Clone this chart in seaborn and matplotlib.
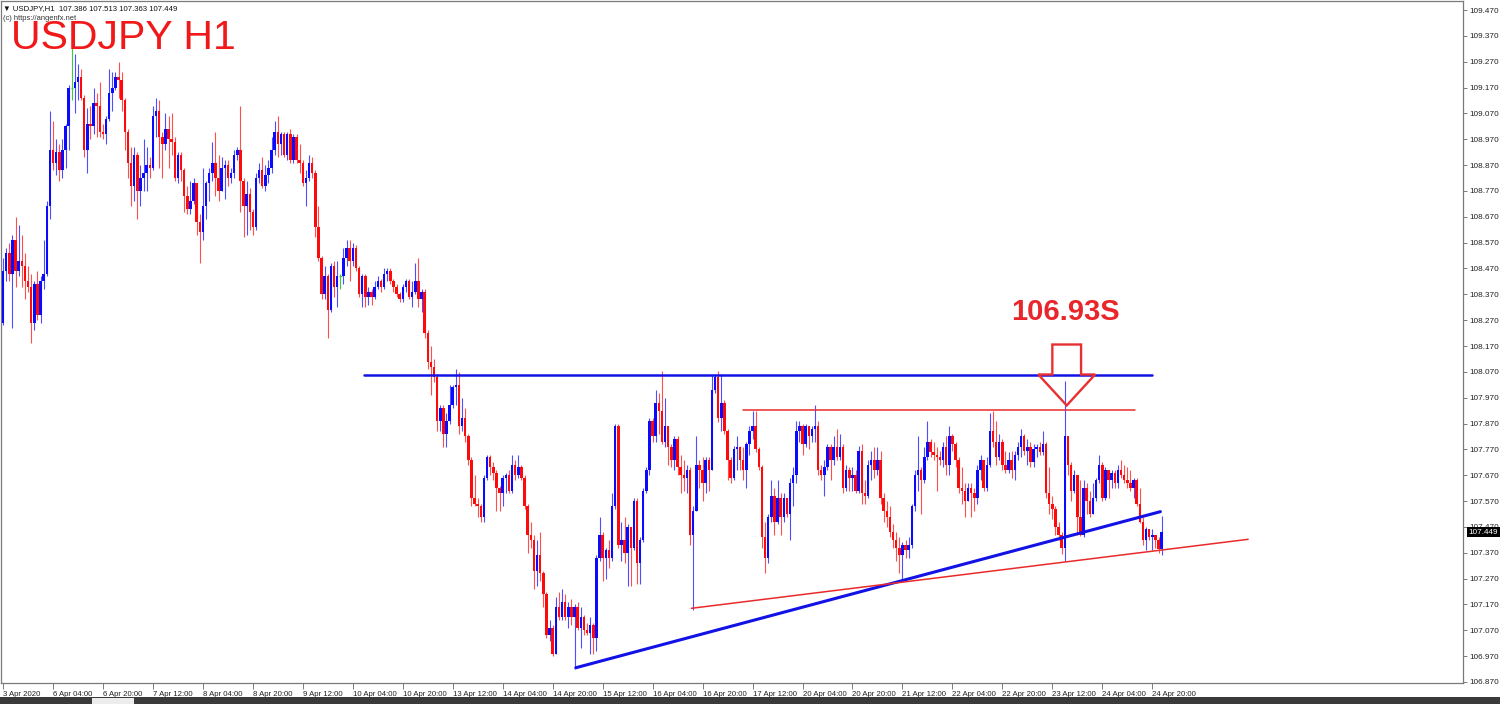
import numpy as np
import pandas as pd
import seaborn as sns
import matplotlib.pyplot as plt
from matplotlib.patches import Polygon, Rectangle
from matplotlib.colors import to_rgba

# ==============================
# DATA  (USDJPY H1, 3 Apr 12:00 -> 24 Apr 23:00, one value per hourly bar)
# ==============================
first_open = 108.26

closes = [
    # 3 Apr 12:00 ... 6 Apr
    108.46, 108.53, 108.45, 108.58, 108.46, 108.50, 108.48, 108.42, 108.40, 108.26, 108.41, 108.29,
    108.42, 108.45, 108.71, 108.93, 108.88, 108.92, 108.85, 108.93, 109.02, 109.17, 109.17, 109.19,
    109.21, 109.13, 108.93, 109.03, 109.02, 109.11, 109.10, 109.00, 108.99, 109.05, 109.15, 109.17,
    109.21, 109.20, 109.12, 109.00, 108.88, 108.79, 108.91, 108.77, 108.82, 108.84, 108.87, 108.86,
    109.06, 109.08, 108.98, 108.95, 109.01, 108.97, 108.96, 108.82, 108.91, 108.85, 108.75, 108.70,
    108.73, 108.80, 108.65, 108.61, 108.71, 108.80, 108.84, 108.88, 108.82, 108.77, 108.86, 108.87,
    108.82, 108.84, 108.91, 108.93, 108.81,
    # 8 Apr ... 10 Apr
    108.71, 108.76, 108.69, 108.63, 108.82, 108.85, 108.79, 108.83, 108.86, 108.93, 109.00, 108.95,
    108.99, 108.91, 108.99, 108.89, 108.98, 108.89, 108.88, 108.80, 108.82, 108.88, 108.84, 108.63,
    108.51, 108.37, 108.44, 108.31, 108.48, 108.40, 108.44, 108.44, 108.51, 108.55, 108.50, 108.55,
    108.47, 108.37, 108.44, 108.36, 108.38, 108.36, 108.40, 108.42, 108.40, 108.45, 108.46, 108.42,
    108.40, 108.37, 108.35, 108.40, 108.42, 108.36, 108.38, 108.42, 108.35, 108.38, 108.22, 108.11,
    # 10 Apr ... 15 Apr
    108.09, 108.05, 107.88, 107.93, 107.83, 107.88, 107.94, 108.01, 108.02, 107.86, 107.89, 107.82,
    107.73, 107.58, 107.56, 107.55, 107.51, 107.66, 107.74, 107.70, 107.68, 107.62, 107.60, 107.66,
    107.67, 107.61, 107.71, 107.67, 107.70, 107.66, 107.55, 107.44, 107.42, 107.30, 107.36, 107.29,
    107.21, 107.05, 107.08, 106.98, 107.16, 107.12, 107.18, 107.12, 107.16, 107.12, 107.16, 107.08,
    107.12, 107.07, 107.06, 107.09, 107.04, 107.35,
    # 15 Apr ... 20 Apr
    107.44, 107.35, 107.38, 107.35, 107.55, 107.86, 107.40, 107.42, 107.37, 107.47, 107.39, 107.57,
    107.33, 107.42, 107.61, 107.69, 107.88, 107.82, 107.95, 107.92, 107.80, 107.86, 107.78, 107.73,
    107.81, 107.70, 107.67, 107.66, 107.69, 107.44, 107.53, 107.71, 107.69, 107.64, 107.73, 107.69,
    108.00, 108.05, 107.89, 107.95, 107.84, 107.73, 107.66, 107.77, 107.78, 107.73, 107.69, 107.79,
    107.84, 107.86, 107.77, 107.70, 107.43, 107.35, 107.51, 107.59, 107.49, 107.58, 107.51, 107.58,
    107.52, 107.64, 107.67, 107.84, 107.86, 107.79, 107.86, 107.82, 107.85, 107.86, 107.69, 107.67,
    107.70, 107.78,
    # 20 Apr ... 23 Apr 13:00
    107.73, 107.78, 107.74, 107.78, 107.62, 107.69, 107.66, 107.67, 107.61, 107.765, 107.60, 107.59,
    107.71, 107.73, 107.69, 107.73, 107.58, 107.53, 107.51, 107.45, 107.42, 107.39, 107.36, 107.40,
    107.38, 107.40, 107.55, 107.67, 107.69, 107.65, 107.74, 107.80, 107.76, 107.75, 107.74, 107.73,
    107.78, 107.71, 107.82, 107.79, 107.73, 107.62, 107.61, 107.57, 107.62, 107.60, 107.58, 107.69,
    107.73, 107.62, 107.71, 107.84, 107.80, 107.74, 107.80, 107.71, 107.69, 107.73, 107.69, 107.75,
    107.78, 107.82, 107.765, 107.78, 107.72, 107.77, 107.78, 107.76, 107.79, 107.60, 107.56, 107.54,
    107.47, 107.44, 107.39, 107.82,
    # 23 Apr 14:00 ... 24 Apr 23:00
    107.71, 107.61, 107.67, 107.51, 107.44, 107.62, 107.57, 107.52, 107.58, 107.65, 107.71, 107.58,
    107.69, 107.65, 107.68, 107.64, 107.69, 107.67, 107.65, 107.64, 107.62, 107.65, 107.56, 107.49,
    107.42, 107.46, 107.43, 107.44, 107.42, 107.386, 107.449,
]

highs = [
    108.51, 108.55, 108.57, 108.60, 108.67, 108.64, 108.60, 108.53, 108.48, 108.45, 108.42, 108.46,
    108.44, 108.58, 108.73, 109.08, 109.04, 108.97, 108.95, 108.97, 109.03, 109.18, 109.34, 109.30,
    109.26, 109.24, 109.14, 109.09, 109.10, 109.17, 109.15, 109.19, 109.03, 109.06, 109.24, 109.23,
    109.23, 109.27, 109.23, 109.13, 109.01, 108.94, 108.94, 108.92, 108.87, 108.97, 108.94, 108.90,
    109.10, 109.13, 109.12, 109.00, 109.07, 109.06, 109.07, 108.98, 108.92, 108.92, 108.86, 108.79,
    108.81, 108.82, 108.80, 108.68, 108.86, 108.81, 108.86, 108.96, 109.00, 108.91, 108.90, 108.89,
    108.89, 108.86, 108.93, 108.94, 109.10,
    108.82, 108.81, 108.78, 108.70, 108.84, 108.88, 108.90, 108.87, 108.89, 108.98, 109.04, 109.06,
    109.00, 109.00, 109.00, 109.01, 108.99, 108.99, 108.95, 108.89, 108.85, 108.91, 108.90, 108.85,
    108.71, 108.52, 108.48, 108.45, 108.49, 108.50, 108.50, 108.45, 108.55, 108.58, 108.58, 108.57,
    108.56, 108.48, 108.45, 108.45, 108.40, 108.39, 108.42, 108.44, 108.43, 108.47, 108.47, 108.47,
    108.43, 108.41, 108.38, 108.41, 108.43, 108.43, 108.42, 108.49, 108.51, 108.39, 108.39, 108.23,
    108.17, 108.12, 108.06, 107.94, 107.94, 107.91, 108.02, 108.02, 108.08, 108.07, 107.97, 107.93,
    107.83, 107.74, 107.67, 107.58, 107.56, 107.67, 107.75, 107.75, 107.72, 107.69, 107.63, 107.67,
    107.68, 107.69, 107.75, 107.73, 107.75, 107.71, 107.67, 107.56, 107.49, 107.44, 107.42, 107.45,
    107.30, 107.22, 107.11, 107.09, 107.20, 107.22, 107.23, 107.21, 107.18, 107.19, 107.17, 107.18,
    107.16, 107.13, 107.10, 107.12, 107.10, 107.36,
    107.51, 107.45, 107.39, 107.42, 107.60, 107.87, 107.87, 107.49, 107.51, 107.48, 107.47, 107.58,
    107.58, 107.43, 107.62, 107.70, 107.89, 107.89, 108.00, 107.99, 108.075, 107.97, 107.86, 107.79,
    107.82, 107.82, 107.75, 107.73, 107.71, 107.70, 107.55, 107.82, 107.73, 107.74, 107.74, 107.74,
    108.056, 108.06, 108.075, 108.06, 107.96, 107.85, 107.74, 107.785, 107.82, 107.785, 107.78, 107.80,
    107.86, 107.92, 107.92, 107.78, 107.71, 107.49, 107.52, 107.65, 107.62, 107.65, 107.60, 107.60,
    107.58, 107.66, 107.70, 107.88, 107.88, 107.87, 107.87, 107.86, 107.86, 107.94, 107.88, 107.71,
    107.73, 107.79,
    107.79, 107.82, 107.85, 107.83, 107.79, 107.71, 107.70, 107.70, 107.69, 107.785, 107.79, 107.65,
    107.73, 107.765, 107.78, 107.78, 107.765, 107.60, 107.57, 107.55, 107.48, 107.45, 107.43, 107.41,
    107.42, 107.43, 107.56, 107.69, 107.82, 107.70, 107.78, 107.88, 107.81, 107.80, 107.78, 107.765,
    107.80, 107.82, 107.86, 107.83, 107.80, 107.74, 107.70, 107.64, 107.64, 107.64, 107.62, 107.71,
    107.75, 107.73, 107.74, 107.91, 107.92, 107.88, 107.83, 107.81, 107.765, 107.76, 107.765, 107.765,
    107.80, 107.85, 107.83, 107.81, 107.80, 107.79, 107.79, 107.80, 107.84, 107.80, 107.70, 107.59,
    107.55, 107.49, 107.45, 108.036,
    107.82, 107.72, 107.69, 107.66, 107.65, 107.65, 107.64, 107.61, 107.64, 107.66, 107.75, 107.72,
    107.70, 107.69, 107.69, 107.69, 107.71, 107.73, 107.71, 107.70, 107.69, 107.66, 107.66, 107.62,
    107.51, 107.47, 107.46, 107.46, 107.44, 107.43, 107.513,
]

lows = [
    108.25, 108.42, 108.42, 108.24, 108.40, 108.44, 108.40, 108.35, 108.38, 108.18, 108.23, 108.27,
    108.26, 108.39, 108.44, 108.66, 108.85, 108.83, 108.81, 108.82, 108.86, 108.93, 109.12, 109.07,
    109.12, 109.12, 108.90, 108.84, 108.97, 108.99, 108.98, 108.98, 108.97, 108.95, 109.04, 109.08,
    109.16, 109.13, 109.08, 108.93, 108.82, 108.71, 108.73, 108.66, 108.71, 108.77, 108.77, 108.82,
    108.85, 108.98, 108.86, 108.82, 108.93, 108.86, 108.91, 108.81, 108.80, 108.81, 108.69, 108.68,
    108.68, 108.72, 108.60, 108.49, 108.58, 108.66, 108.73, 108.81, 108.75, 108.73, 108.77, 108.74,
    108.79, 108.80, 108.82, 108.89, 108.69,
    108.59, 108.60, 108.62, 108.60, 108.62, 108.80, 108.78, 108.77, 108.80, 108.84, 108.91, 108.90,
    108.91, 108.90, 108.89, 108.88, 108.88, 108.88, 108.84, 108.79, 108.71, 108.81, 108.82, 108.59,
    108.50, 108.35, 108.35, 108.20, 108.30, 108.36, 108.32, 108.39, 108.41, 108.48, 108.42, 108.48,
    108.46, 108.36, 108.32, 108.32, 108.33, 108.33, 108.35, 108.39, 108.38, 108.39, 108.42, 108.41,
    108.38, 108.36, 108.34, 108.34, 108.38, 108.35, 108.32, 108.37, 108.32, 108.30, 108.20, 108.08,
    107.98, 108.03, 107.84, 107.84, 107.78, 107.78, 107.87, 107.93, 107.94, 107.83, 107.84, 107.80,
    107.71, 107.55, 107.55, 107.51, 107.49, 107.49, 107.65, 107.67, 107.65, 107.53, 107.53, 107.55,
    107.60, 107.60, 107.60, 107.65, 107.66, 107.65, 107.54, 107.37, 107.39, 107.23, 107.24, 107.26,
    107.16, 107.04, 107.03, 106.97, 106.98, 107.11, 107.11, 107.11, 107.08, 107.09, 106.92, 107.07,
    107.00, 107.05, 107.05, 106.98, 106.98, 106.99,
    107.34, 107.26, 107.27, 107.31, 107.34, 107.54, 107.39, 107.34, 107.33, 107.24, 107.24, 107.38,
    107.25, 107.25, 107.41, 107.60, 107.67, 107.80, 107.80, 107.83, 107.79, 107.78, 107.71, 107.70,
    107.69, 107.67, 107.60, 107.61, 107.60, 107.40, 107.15, 107.53, 107.62, 107.57, 107.60, 107.61,
    107.69, 107.99, 107.875, 107.84, 107.83, 107.65, 107.64, 107.65, 107.69, 107.69, 107.65, 107.62,
    107.75, 107.81, 107.76, 107.69, 107.39, 107.29, 107.33, 107.49, 107.44, 107.48, 107.44, 107.49,
    107.51, 107.42, 107.55, 107.64, 107.80, 107.75, 107.78, 107.77, 107.80, 107.80, 107.67, 107.65,
    107.59, 107.69,
    107.65, 107.71, 107.73, 107.73, 107.60, 107.61, 107.61, 107.61, 107.60, 107.60, 107.56, 107.56,
    107.58, 107.65, 107.66, 107.67, 107.56, 107.49, 107.47, 107.43, 107.39, 107.34, 107.29, 107.26,
    107.35, 107.35, 107.39, 107.53, 107.61, 107.52, 107.64, 107.73, 107.74, 107.73, 107.61, 107.71,
    107.70, 107.67, 107.67, 107.765, 107.70, 107.60, 107.56, 107.51, 107.57, 107.51, 107.53, 107.56,
    107.65, 107.61, 107.61, 107.70, 107.78, 107.71, 107.73, 107.69, 107.68, 107.68, 107.66, 107.65,
    107.73, 107.74, 107.75, 107.71, 107.70, 107.70, 107.74, 107.75, 107.75, 107.58, 107.52, 107.50,
    107.44, 107.42, 107.364, 107.338,
    107.67, 107.57, 107.60, 107.44, 107.435, 107.43, 107.52, 107.51, 107.52, 107.57, 107.64, 107.57,
    107.575, 107.58, 107.62, 107.62, 107.62, 107.66, 107.64, 107.62, 107.61, 107.58, 107.55, 107.487,
    107.40, 107.38, 107.42, 107.38, 107.39, 107.37, 107.363,
]

# time axis labels, one every 16 bars
time_labels = ["3 Apr 2020", "6 Apr 04:00", "6 Apr 20:00", "7 Apr 12:00", "8 Apr 04:00",
               "8 Apr 20:00", "9 Apr 12:00", "10 Apr 04:00", "10 Apr 20:00", "13 Apr 12:00",
               "14 Apr 04:00", "14 Apr 20:00", "15 Apr 12:00", "16 Apr 04:00", "16 Apr 20:00",
               "17 Apr 12:00", "20 Apr 04:00", "20 Apr 20:00", "21 Apr 12:00", "22 Apr 04:00",
               "22 Apr 20:00", "23 Apr 12:00", "24 Apr 04:00", "24 Apr 20:00"]
label_step = 16

# drawn objects: anchors as (bar, price)
resistance_bars = [115.5, 368.0]
resistance_px = [108.059, 108.059]
inner_top_bars = [237.1, 362.6]
inner_top_px = [107.924, 107.924]
blue_trend_bars = [183.4, 370.6]
blue_trend_px = [106.925, 107.529]
red_trend_bars = [220.4, 398.7]
red_trend_px = [107.155, 107.422]

arrow_bar = 340.6
arrow_tip = 107.94
label_text = "106.93S"
last_price = 107.449
header = "\u25bc USDJPY,H1  107.386 107.513 107.363 107.449"

# ==============================
# FRAME
# ==============================
n = len(closes)
opens = [first_open] + closes[:-1]
df = pd.DataFrame({"bar": np.arange(n), "open": opens, "high": highs,
                   "low": lows, "close": closes})
df["high"] = df[["open", "high", "close"]].max(axis=1)
df["low"] = df[["open", "low", "close"]].min(axis=1)
df["kind"] = np.where(np.isclose(df["close"], df["open"]), "doji",
                      np.where(df["close"] > df["open"], "bull", "bear"))

BLUE = "#0a0aff"
RED = "#ff0a0a"
GREEN = "#3ccc3c"
body_col = {"bull": BLUE, "bear": RED, "doji": GREEN}

# ==============================
# PLOT
# ==============================
sns.set_theme(style="white")
plt.rcParams["font.family"] = ["Liberation Sans", "DejaVu Sans"]

fig = plt.figure(figsize=(15, 7.04), dpi=100)
fig.patch.set_facecolor("white")
ax = fig.add_axes([0.0007, 21 / 704, 1463 / 1500 - 0.0007, 682 / 704])
ax.set_facecolor("white")

# wicks
wick_colors = [to_rgba(body_col[k], 0.72 if k != "doji" else 1.0) for k in df["kind"]]
ax.vlines(df["bar"], df["low"], df["high"], colors=wick_colors, linewidth=0.8, zorder=2)

# bodies
bodies = df[df["kind"] != "doji"]
ax.bar(bodies["bar"], bodies["close"] - bodies["open"], bottom=bodies["open"],
       width=0.8, color=[body_col[k] for k in bodies["kind"]], linewidth=0, zorder=3)
dojis = df[df["kind"] == "doji"]
ax.hlines(dojis["open"], dojis["bar"] - 0.4, dojis["bar"] + 0.4, colors=GREEN,
          linewidth=0.9, zorder=3)

# levels and trend lines
sns.lineplot(x=resistance_bars, y=resistance_px, ax=ax, color="#1212e6", linewidth=1.8,
             sort=False, estimator=None, zorder=4)
sns.lineplot(x=inner_top_bars, y=inner_top_px, ax=ax, color="#ea2a2a", linewidth=1.1,
             sort=False, estimator=None, zorder=4)
sns.lineplot(x=blue_trend_bars, y=blue_trend_px, ax=ax, color="#1212e6", linewidth=2.2,
             sort=False, estimator=None, zorder=4)
sns.lineplot(x=red_trend_bars, y=red_trend_px, ax=ax, color="#ea2a2a", linewidth=1.1,
             sort=False, estimator=None, zorder=4)

# hollow down arrow
px = 1 / 258.7
shaft_w, head_w = 4.6, 9.1
head_top = arrow_tip + 31 * px
shaft_top = head_top + 30 * px
arrow_pts = [(arrow_bar - shaft_w, shaft_top), (arrow_bar + shaft_w, shaft_top),
             (arrow_bar + shaft_w, head_top), (arrow_bar + head_w, head_top),
             (arrow_bar, arrow_tip), (arrow_bar - head_w, head_top),
             (arrow_bar - shaft_w, head_top)]
ax.add_patch(Polygon(arrow_pts, closed=True, fill=False, edgecolor="#e83030",
                     linewidth=1.7, joinstyle="miter", zorder=5))
ax.text(arrow_bar - 0.4, arrow_tip + 86 * px, label_text, ha="center", va="baseline",
        fontsize=21, fontweight="bold", color="#e8262b", zorder=6)

# axes
ax.set_xlim(-0.64, 467.5)
ax.set_ylim(106.866, 109.505)

price_ticks = [round(106.87 + 0.1 * k, 3) for k in range(27)]
ax.yaxis.tick_right()
ax.set_yticks(price_ticks)
ax.set_yticklabels([f"{v:.3f}" for v in price_ticks])
ax.tick_params(axis="y", right=True, left=False, length=3, width=0.6, pad=1.5,
               labelsize=5.9, color="#666666", labelcolor="#222222")

tick_bars = list(range(0, label_step * len(time_labels), label_step))
ax.set_xticks(tick_bars)
ax.set_xticklabels(time_labels)
for lbl in ax.get_xticklabels():
    lbl.set_horizontalalignment("left")
ax.tick_params(axis="x", bottom=True, length=4, width=0.6, pad=1.5,
               labelsize=5.6, color="#666666", labelcolor="#222222")
ax.grid(False)
for sp in ax.spines.values():
    sp.set_color("#7a7a7a")
    sp.set_linewidth(0.9)

# current price marker
ax.text(1.004, last_price, f"{last_price:.3f}", transform=ax.get_yaxis_transform(),
        ha="left", va="center", fontsize=5.9, color="white", clip_on=False, zorder=10,
        bbox=dict(boxstyle="square,pad=0.2", fc="black", ec="none"))

# header / title
fig.text(3 / 1500, 1 - 10 / 704, header, fontsize=5.6, color="#111111", va="baseline")
fig.text(3 / 1500, 1 - 20 / 704, "(c) https://angenfx.net", fontsize=5.4,
         color="#333333", va="baseline")
fig.text(11 / 1500, 1 - 49 / 704, "USDJPY H1", fontsize=29.5, color="#f01818",
         va="baseline")

# terminal tab strip
fig.add_artist(Rectangle((0, 0), 1, 7 / 704, transform=fig.transFigure,
                         fc="#3a3a3a", ec="none"))
fig.add_artist(Rectangle((92 / 1500, 0), 42 / 1500, 6 / 704, transform=fig.transFigure,
                         fc="#ececec", ec="none"))

fig.savefig("out.png", dpi=100, facecolor="white")
